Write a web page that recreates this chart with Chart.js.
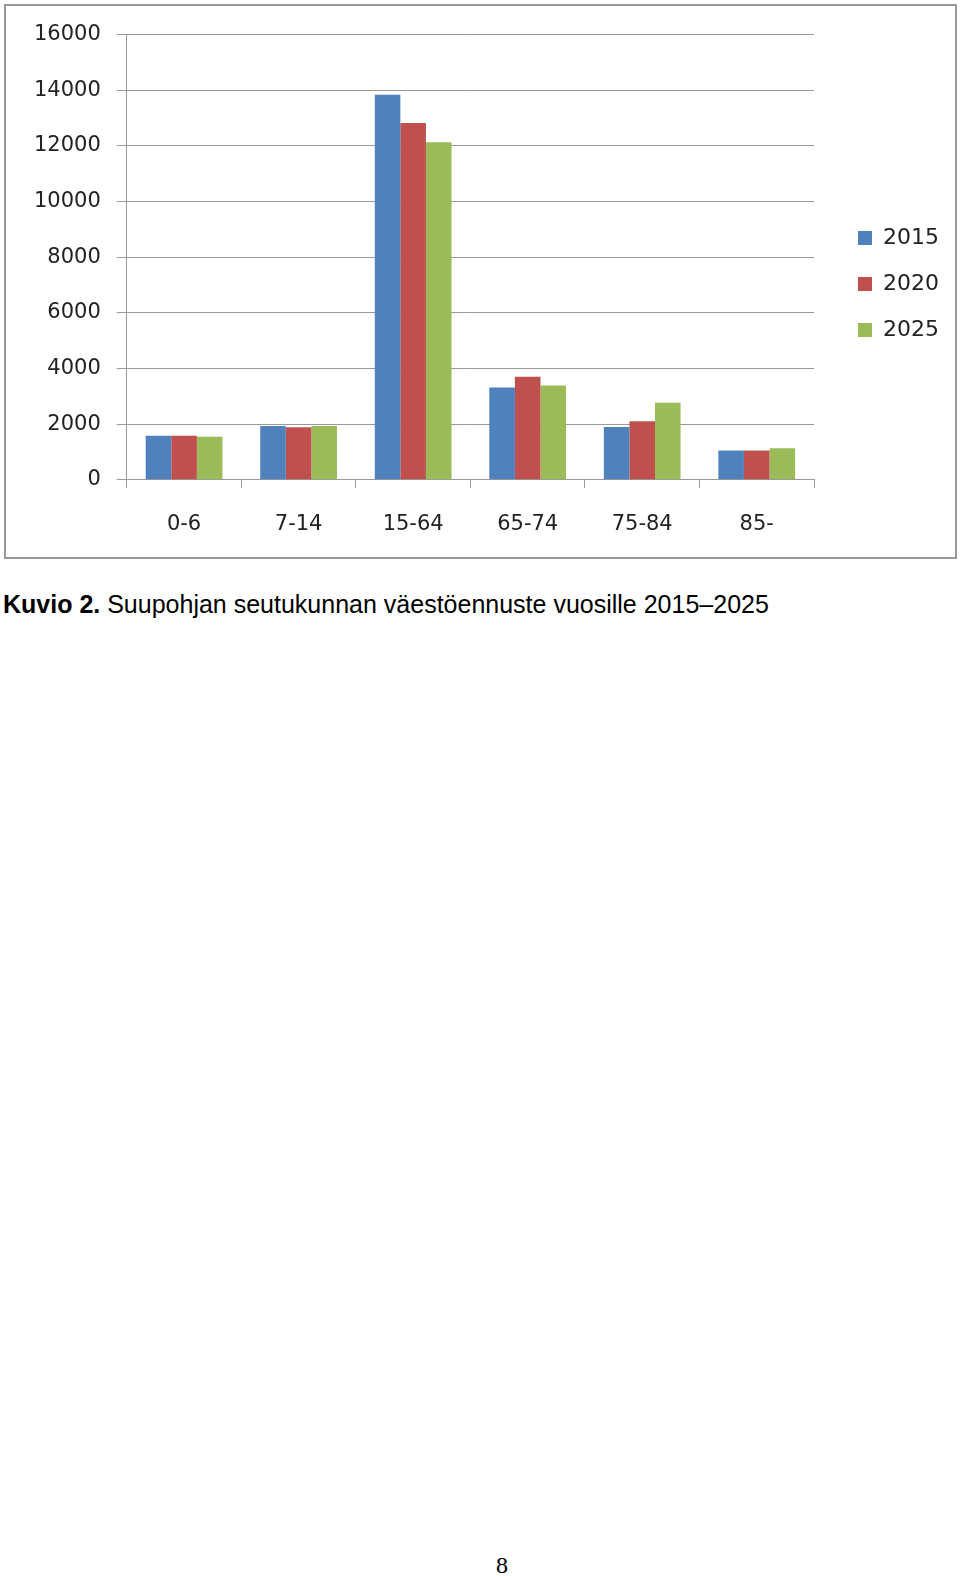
<!DOCTYPE html>
<html>
<head>
<meta charset="utf-8">
<script src="https://cdn.jsdelivr.net/npm/chart.js@4.4.1/dist/chart.umd.min.js"></script>
<style>
  body { margin: 0; background: #fff; width: 960px; height: 1576px; position: relative; overflow: hidden; }
  #box { position: absolute; left: 4px; top: 4px; width: 949px; height: 551px; border: 2px solid #999; }
  #box canvas { display: block; }
  #caption { position: absolute; left: 3px; top: 590px; font-family: "Liberation Sans", Arial, sans-serif; font-size: 25px; color: #000; white-space: nowrap; }
  #page { position: absolute; left: 496px; top: 1552px; font-family: "Liberation Serif", "Times New Roman", serif; font-size: 24px; }
</style>
</head>
<body>
<div id="box"><canvas id="chart" width="949" height="551"></canvas></div>
<div id="caption"><b>Kuvio 2.</b> Suupohjan seutukunnan väestöennuste vuosille 2015–2025</div>
<div id="page">8</div>
<script>
const ageGroups = ['0-6', '7-14', '15-64', '65-74', '75-84', '85-'];
const years = ['2015', '2020', '2025'];
const values2015 = [1580, 1930, 13840, 3320, 1900, 1050];
const values2020 = [1580, 1890, 12820, 3700, 2100, 1050];
const values2025 = [1550, 1930, 12130, 3390, 2770, 1130];
const yTicks = [0, 2000, 4000, 6000, 8000, 10000, 12000, 14000, 16000];

const colors = ['#4F81BD', '#C0504D', '#9BBB59'];
const series = [values2015, values2020, values2025];

// push the legend a bit right of the plot and up, like the original
const legendShift = {
  id: 'legendShift',
  afterLayout(chart) {
    chart.legend.left += 20;
    chart.legend.right += 20;
    chart.legend.top -= 7;
    chart.legend.bottom -= 7;
  }
};

const ctx = document.getElementById('chart').getContext('2d');

new Chart(ctx, {
  type: 'bar',
  data: {
    labels: ageGroups,
    datasets: years.map((y, i) => ({
      label: y,
      data: series[i],
      backgroundColor: colors[i],
      borderWidth: 0,
      categoryPercentage: 0.67,
      barPercentage: 1.0
    }))
  },
  options: {
    responsive: false,
    animation: false,
    layout: { padding: { left: 12, right: 26, top: 15, bottom: -4 } },
    plugins: {
      legend: {
        position: 'right',
        labels: {
          boxWidth: 14,
          boxHeight: 14,
          padding: 24,
          color: '#222',
          font: { family: 'DejaVu Sans', size: 22 }
        }
      },
      tooltip: { enabled: false }
    },
    scales: {
      x: {
        grid: { display: true, drawOnChartArea: false, offset: true, tickLength: 8, color: '#999' },
        border: { color: '#999' },
        ticks: { color: '#222', font: { family: 'DejaVu Sans', size: 21 }, padding: 24 }
      },
      y: {
        min: 0,
        max: 16000,
        afterBuildTicks: axis => { axis.ticks = yTicks.map(v => ({ value: v })); },
        grid: { color: '#999', tickLength: 10 },
        border: { color: '#999' },
        ticks: {
          color: '#222',
          font: { family: 'DejaVu Sans', size: 21 },
          padding: 16,
          callback: v => String(v)
        }
      }
    }
  },
  plugins: [legendShift]
});
</script>
</body>
</html>
